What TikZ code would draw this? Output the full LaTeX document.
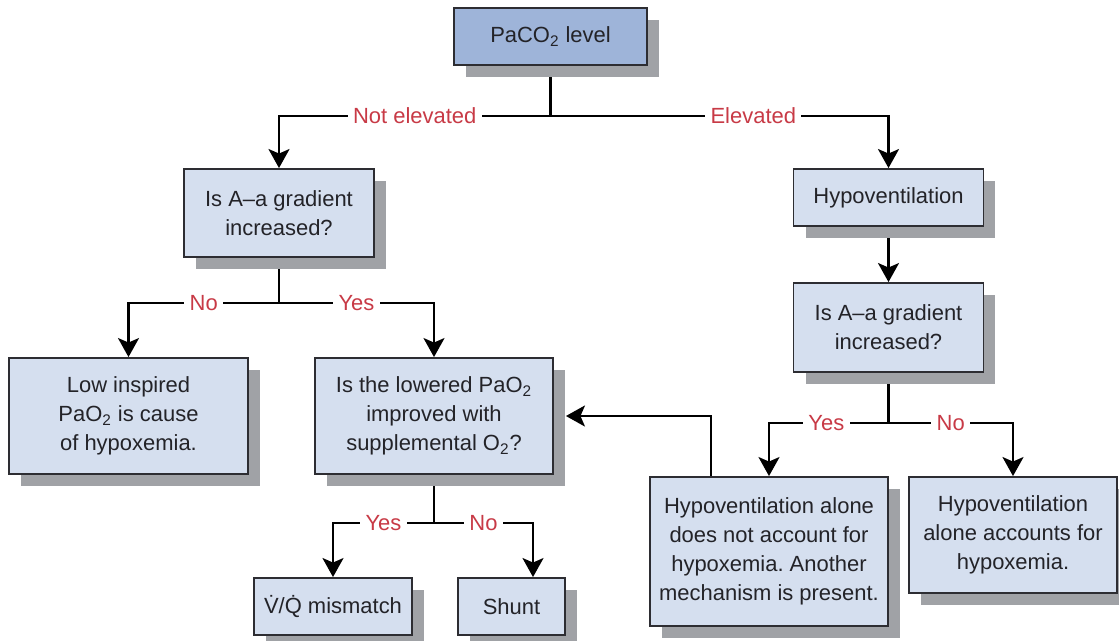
\documentclass[tikz,border=0pt]{standalone}
\usepackage{fontspec}
\setmainfont{Liberation Sans}
\usetikzlibrary{arrows.meta, shadows, backgrounds}
\definecolor{boxblue}{RGB}{213,223,239}
\definecolor{topblue}{RGB}{158,180,217}
\definecolor{edgegray}{RGB}{45,45,50}
\definecolor{textgray}{RGB}{35,35,40}
\definecolor{shadegray}{RGB}{160,162,166}
\definecolor{answerred}{RGB}{200,58,70}
\tikzset{
    decision/.style={
        rectangle, draw=edgegray, line width=1.1pt,
        fill=boxblue, text=textgray, align=center, inner sep=0pt,
        font=\fontsize{12.5}{16.5}\selectfont,
        drop shadow={shadow xshift=0.24cm, shadow yshift=-0.24cm,
                     fill=shadegray, opacity=1}
    },
    line/.style={draw=black, line width=1.4pt},
    wire/.style={draw=black, line width=1.4pt,
                 -{Stealth[length=0.38cm, width=0.42cm, inset=0.09cm]}},
    answer/.style={
        fill=white, text=answerred, inner xsep=3pt, inner ysep=1pt,
        font=\fontsize{12.5}{15}\selectfont
    }
}
\frenchspacing
\begin{document}
\begin{tikzpicture}[x=0.02cm, y=-0.02cm]
\useasboundingbox (0,0) rectangle (1119,640);

% Start
\node[decision, fill=topblue, minimum width=3.86cm, minimum height=1.14cm] (paco2) at (550.5,36.5) {PaCO\textsubscript{2} level};

% Not elevated branch
\node[decision, minimum width=3.8cm, minimum height=1.76cm] (gradL) at (279,213) {Is A--a gradient\\increased?};
\node[decision, minimum width=4.78cm, minimum height=2.32cm] (lowinsp) at (128.5,416) {Low inspired\\PaO\textsubscript{2} is cause\\of hypoxemia.};
\node[decision, minimum width=4.76cm, minimum height=2.32cm] (lowered) at (434,416) {Is the lowered PaO\textsubscript{2}\\improved with\\supplemental O\textsubscript{2}?};
\node[decision, minimum width=3.16cm, minimum height=1.14cm] (vq) at (333,606.5) {\.{V}/\.{Q} mismatch};
\node[decision, minimum width=2.14cm, minimum height=1.14cm] (shunt) at (511.5,606.5) {Shunt};

% Elevated branch
\node[decision, minimum width=3.8cm, minimum height=1.14cm] (hypo) at (888.5,197.5) {Hypoventilation};
\node[decision, minimum width=3.8cm, minimum height=1.78cm] (gradR) at (888.5,327.5) {Is A--a gradient\\increased?};
\node[decision, minimum width=4.76cm, minimum height=2.98cm] (notalone) at (769,551.5) {Hypoventilation alone\\does not account for\\hypoxemia. Another\\mechanism is present.};
\node[decision, minimum width=4.16cm, minimum height=2.32cm] (alone) at (1013,535) {Hypoventilation\\alone accounts for\\hypoxemia.};

% Junctions
\coordinate (j0) at (550.5,116);
\coordinate (j1) at (279,303);
\coordinate (j2) at (434,523);
\coordinate (j3) at (888.5,423);

\begin{scope}[on background layer]
\draw[line] (paco2) -- (j0);
\draw[wire] (j0) -| node[answer, pos=0.25] {Not elevated} (gradL);
\draw[wire] (j0) -| node[answer, pos=0.3] {Elevated} (hypo);

\draw[line] (gradL) -- (j1);
\draw[wire] (j1) -| node[answer, pos=0.25] {No} (lowinsp);
\draw[wire] (j1) -| node[answer, pos=0.25] {Yes} (lowered);

\draw[line] (lowered) -- (j2);
\draw[wire] (j2) -| node[answer, pos=0.25] {Yes} (vq);
\draw[wire] (j2) -| node[answer, pos=0.25] {No} (533,0 |- shunt.north);

\draw[wire] (hypo) -- (gradR);
\draw[line] (gradR) -- (j3);
\draw[wire] (j3) -| node[answer, pos=0.26] {Yes} (notalone);
\draw[wire] (j3) -| node[answer, pos=0.25] {No} (alone);

% back to the O2 question
\draw[wire] (711,0 |- notalone.north) |- ([xshift=0.24cm]lowered.east);
\end{scope}

\end{tikzpicture}
\end{document}
